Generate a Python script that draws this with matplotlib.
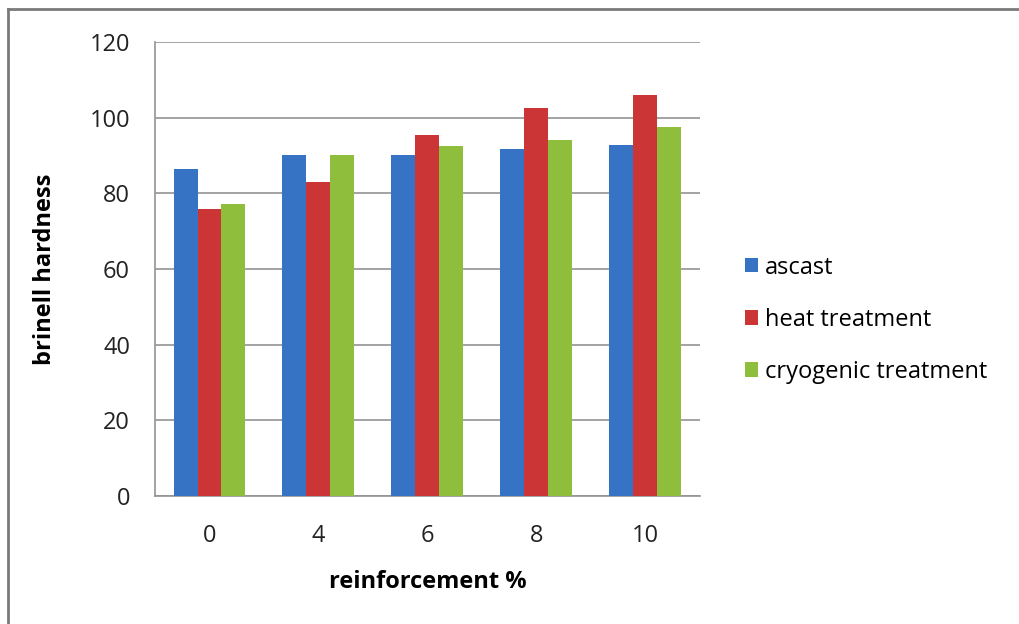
import numpy as np
from matplotlib import pyplot as plt
from matplotlib.lines import Line2D

categories = ["0", "4", "6", "8", "10"]
ascast = [86.3, 90.2, 90.0, 91.7, 92.8]
heat = [75.9, 83.0, 95.3, 102.6, 105.9]
cryo = [77.2, 90.0, 92.4, 94.0, 97.5]
series_names = ["ascast", "heat treatment", "cryogenic treatment"]
colors = ["#3673c4", "#cc3535", "#8fbd3c"]

plt.rcParams['font.family'] = ['Open Sans', 'DejaVu Sans']

fig = plt.figure(figsize=(10.2, 6.24), dpi=100)
ax = fig.add_axes([0.152, 0.205, 0.534, 0.728])

x = np.arange(len(categories))
w = 0.22
for i, (vals, name, c) in enumerate(zip([ascast, heat, cryo], series_names, colors)):
    ax.bar(x + (i - 1) * w, vals, w, color=c, label=name, zorder=3)

ax.set_xlim(-0.5, len(categories) - 0.5)
ax.set_ylim(0, 120)
ax.set_yticks(range(0, 121, 20))
ax.set_xticks(x)
ax.set_xticklabels(categories)
ax.tick_params(length=0, labelsize=17, colors="#222222")
ax.tick_params(axis="y", pad=18)
ax.tick_params(axis="x", pad=20)
ax.yaxis.grid(True, color="#939393", linewidth=1.2, zorder=0)
for s in ["top", "right"]:
    ax.spines[s].set_visible(False)
for s in ["left", "bottom"]:
    ax.spines[s].set_color("#939393")
    ax.spines[s].set_linewidth(1.2)

ax.set_xlabel("reinforcement %", fontsize=17, fontweight="bold")
ax.xaxis.set_label_coords(0.5, -0.162)
ax.set_ylabel("brinell hardness", fontsize=17, fontweight="bold")
ax.yaxis.set_label_coords(-0.18, 0.5)

ax.legend(loc="center left", bbox_to_anchor=(1.044, 0.388), frameon=False,
          fontsize=17, handlelength=0.55, handleheight=0.55, handletextpad=0.3,
          labelspacing=1.19)

# outer frame of the original chart
fig.add_artist(Line2D([0.008, 0.008], [0.0, 0.986], transform=fig.transFigure,
                      color="#7a7a7a", linewidth=2))
fig.add_artist(Line2D([0.008, 1.0], [0.986, 0.986], transform=fig.transFigure,
                      color="#7a7a7a", linewidth=2))

fig.savefig("out.png", dpi=100)
